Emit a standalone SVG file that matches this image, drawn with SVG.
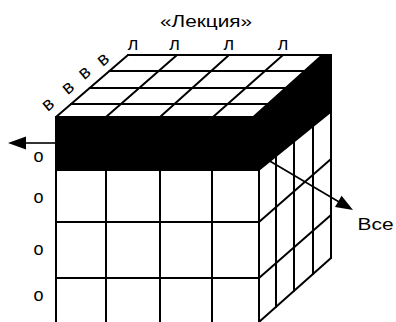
<svg xmlns="http://www.w3.org/2000/svg" width="396" height="322" viewBox="0 0 396 322">
<defs>
<style>
.g{fill:none;stroke:#000;stroke-width:2;stroke-linecap:round;stroke-linejoin:round}
.a{fill:none;stroke:#000;stroke-width:1.6}
.t{font-family:"Liberation Sans",Arial,sans-serif;fill:#000}
</style>
</defs>
<rect width="396" height="322" fill="#fff"/>
<g id="cube">
<path class="g" d="M128,55 L331,55 M109.4,71 L310,71 M89.7,88 L290,88 M71.1,104 L274,104 M56,117 L259,117"/>
<path class="g" d="M56,117 L128,55 M106,117 L177,55 M160,117 L229,55 M213,117 L283,55"/>
<path d="M56,116 L253,116 L322,54 L332,54 L332,112 L259,171 L56,171 Z" fill="#000"/>
<path class="g" d="M56,117 L56,323 M106,170 L106,323 M160,170 L160,323 M212,170 L212,323 M259,170 L259,323"/>
<path class="g" d="M56,222 L259,222 M56,278 L259,278"/>
<path class="g" d="M331,55 L331,258 M276,156.3 L276,306.9 M294,141.8 L294,290.9 M313,126.5 L313,274"/>
<path class="g" d="M259,222 L331,159 M259,278 L331,215 M259,322 L331,258"/>
</g>
<g id="connectors">
<line class="a" x1="56" y1="143" x2="24" y2="143"/>
<polygon points="8,143 26,136.5 26,149.5"/>
<line class="a" x1="268" y1="160" x2="340" y2="202.5"/>
<polygon points="353,210 335,207 341.6,195.8"/>
</g>
<g id="labels" class="t">
<text class="t" x="160" y="26.7" font-size="17" textLength="92" lengthAdjust="spacingAndGlyphs">«Лекция»</text>
<g font-size="18" text-anchor="middle">
<text class="t" x="133" y="49.5">л</text>
<text class="t" x="174.5" y="49.5">л</text>
<text class="t" x="228.7" y="49.5">л</text>
<text class="t" x="283" y="49.5">л</text>
<text class="t" x="48.3" y="105" dy="5" font-size="19" transform="rotate(-40 48.3 105)">в</text>
<text class="t" x="68.3" y="88.3" dy="5" font-size="19" transform="rotate(-40 68.3 88.3)">в</text>
<text class="t" x="85" y="73.3" dy="5" font-size="19" transform="rotate(-40 85 73.3)">в</text>
<text class="t" x="103.3" y="60" dy="5" font-size="19" transform="rotate(-40 103.3 60)">в</text>
<text class="t" x="38.5" y="161.5">о</text>
<text class="t" x="38.5" y="203">о</text>
<text class="t" x="38.5" y="255">о</text>
<text class="t" x="38.5" y="300.5">о</text>
</g>
<text class="t" x="357.5" y="229.5" font-size="17" textLength="36" lengthAdjust="spacingAndGlyphs">Все</text>
</g>
</svg>
